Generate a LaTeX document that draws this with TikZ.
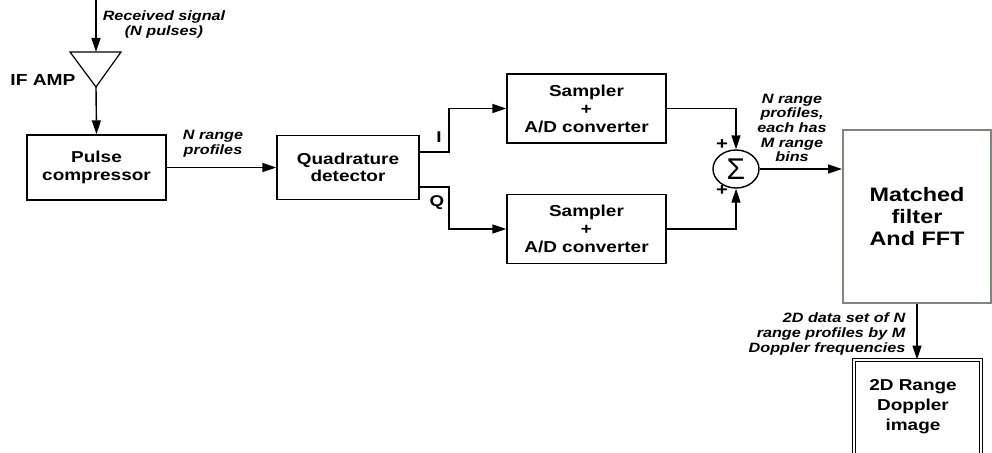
\documentclass[tikz,border=0pt]{standalone}
\usepackage{fontspec}
\setmainfont{Liberation Sans}[FakeStretch=1.2]
\newfontfamily\sigmafont{Liberation Sans}
\usetikzlibrary{arrows.meta,shapes.geometric}
\definecolor{mfgray}{RGB}{125,135,125}
\begin{document}
\begin{tikzpicture}[x=1pt,y=-1pt,
  line width=1.4pt,
  arr/.style={-{Triangle[length=14pt,width=9pt]}},
  block/.style={draw,rectangle,align=center,inner sep=0pt,font=\bfseries\fontsize{15.8}{17.5}\selectfont},
  lab/.style={align=center,inner sep=0pt,font=\bfseries\itshape\fontsize{13.5}{15}\selectfont},
  sign/.style={inner sep=0pt,font=\bfseries\fontsize{15.6}{17}\selectfont}]
\useasboundingbox (0,0) rectangle (992,452);
% amplifier
\coordinate (in) at (96,0);
\coordinate (ampl) at (70,52);
\coordinate (ampr) at (121,52);
\coordinate (amptop) at (96,52);
\coordinate (ampapex) at (96,87);
\draw[line width=1.2pt] (ampl) -- (ampr) -- (ampapex) -- cycle;
\node[sign,font=\bfseries\fontsize{16}{17}\selectfont] (ifamp) at (43,80) {IF AMP};
\node[lab] (recv) at (164,25) {Received signal\\(N pulses)};
% blocks
\node[block,minimum width=139pt,minimum height=65pt] (pulse) at (96.5,167.5) {Pulse\\compressor};
\node[block,minimum width=142pt,minimum height=64pt] (quad) at (348,167.5) {Quadrature\\detector};
\node[block,minimum width=159pt,minimum height=69pt,font=\bfseries\fontsize{15.8}{18}\selectfont] (s1) at (586.5,108.5) {Sampler\\+\\A/D converter};
\node[block,minimum width=159pt,minimum height=69pt,font=\bfseries\fontsize{15.8}{18}\selectfont] (s2) at (586.5,229) {Sampler\\+\\A/D converter};
\node[draw,ellipse,minimum width=46pt,minimum height=38pt,inner sep=0pt] (sum) at (736,169) {\sigmafont\fontsize{30}{30}\selectfont Σ};
\node[draw=mfgray,line width=2pt,rectangle,align=center,minimum width=148pt,minimum height=173pt,font=\bfseries\fontsize{19.5}{22}\selectfont] (mf) at (917,216.5) {Matched\\filter\\And FFT};
\node[draw,double,double distance=2pt,line width=1pt,rectangle,align=center,minimum width=127pt,minimum height=110pt,anchor=north] (img) at (917,359.5) {};
\node[inner sep=0pt,align=center,font=\bfseries\fontsize{15.8}{20}\selectfont] (imgtxt) at (913,407) {2D Range\\Doppler\\image};
% connectors
\draw[arr] (in) -- (amptop);
\draw[arr] (ampapex) -- (pulse.north);
\draw[arr] (pulse.east) -- (quad.west);
\node[lab] (nrp) at (213,144) {N range\\profiles};
\draw[arr] ([yshift=15.5pt]quad.east) -- (449,152) |- (s1.west);
\draw[arr] ([yshift=-19.5pt]quad.east) -- (449,187) |- (s2.west);
\node[sign] (ilab) at (439,137) {I};
\node[sign] (qlab) at (437,203) {Q};
\draw[arr] (s1.east) -| (sum.north);
\draw[arr] (s2.east) -| (sum.south);
\node[sign,font=\bfseries\fontsize{17}{17}\selectfont] (p1) at (722,145) {+};
\node[sign,font=\bfseries\fontsize{17}{17}\selectfont] (p2) at (722,191) {+};
\draw[arr] (sum.east) -- (sum.east -| mf.west);
\node[lab,font=\bfseries\itshape\fontsize{13.5}{14.6}\selectfont] (nrp2) at (792,128) {N range\\profiles,\\each has\\M range\\bins};
\draw[arr] (mf.south) -- (img.north);
\node[lab,align=right,anchor=east] (dset) at (906,334) {2D data set of N\\range profiles by M\\Doppler frequencies};
\end{tikzpicture}
\end{document}
